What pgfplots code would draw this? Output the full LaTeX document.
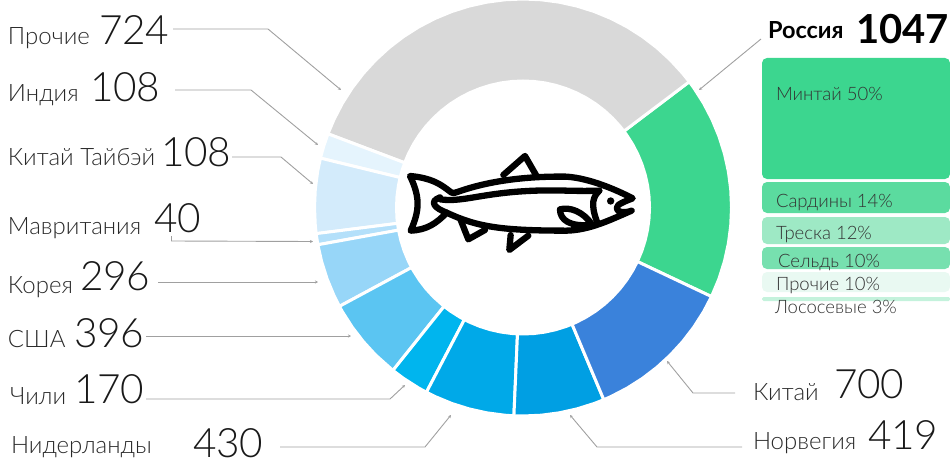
\documentclass[border=0pt]{standalone}
\usepackage{fontspec}
\setmainfont{Lato}
\newfontfamily\lt{Lato Light}
\usepackage{pgfplots}
\pgfplotsset{compat=1.18}
\usetikzlibrary{arrows.meta}
\definecolor{cRus}{HTML}{3CD68F}
\definecolor{cOth}{HTML}{D9D9D9}
\definecolor{cInd}{HTML}{E5F4FD}
\definecolor{cTai}{HTML}{D3EBFB}
\definecolor{cMau}{HTML}{B4E0FA}
\definecolor{cKor}{HTML}{97D6F8}
\definecolor{cUSA}{HTML}{5BC5F2}
\definecolor{cChi}{HTML}{00B5EE}
\definecolor{cNet}{HTML}{00A9E8}
\definecolor{cNor}{HTML}{009FE3}
\definecolor{cChn}{HTML}{3A82DB}
\definecolor{tA}{HTML}{5BDB9F}
\definecolor{tB}{HTML}{9EE9C5}
\definecolor{tC}{HTML}{77E0AF}
\definecolor{tD}{HTML}{E9F9F2}
\definecolor{tE}{HTML}{C4F2DC}
\definecolor{lead}{HTML}{A0A0A0}
\definecolor{txt}{HTML}{2A2A2A}
\newcommand{\lab}[1]{{\lt\fontsize{24}{24}\selectfont\color{txt}#1}}
\newcommand{\num}[1]{{\lt\fontsize{40.5}{40}\selectfont\color{black!90}#1}}
\newcommand{\tm}[1]{{\lt\fontsize{18.5}{20}\selectfont\color{black!80}#1}}
\begin{document}
\begin{tikzpicture}
\path[use as bounding box] (0,0) rectangle (950pt,460pt);
% ring
\begin{axis}[at={(0,0)},anchor=south west,width=950pt,height=460pt,scale only axis,hide axis,
  xmin=-523,xmax=427,ymin=-252.5,ymax=207.5,clip=false]
\pgfplotsset{wedge/.style={fill=#1,draw=white,line width=3pt,line join=miter,data cs=polar}}
\addplot[wedge=cRus] coordinates {(-25.3,208.5)(-20,208.5)(-15,208.5)(-10,208.5)(-5,208.5)(0,208.5)(5,208.5)(10,208.5)(15,208.5)(20,208.5)(25,208.5)(30,208.5)(35,208.5)(37.1,208.5)
 (37.1,126.5)(35,126.5)(30,126.5)(25,126.5)(20,126.5)(15,126.5)(10,126.5)(5,126.5)(0,126.5)(-5,126.5)(-10,126.5)(-15,126.5)(-20,126.5)(-25.3,126.5)} --cycle;
\addplot[wedge=cOth] coordinates {(37.1,208.5)(40,208.5)(45,208.5)(50,208.5)(55,208.5)(60,208.5)(65,208.5)(70,208.5)(75,208.5)(80,208.5)(85,208.5)(90,208.5)(95,208.5)(100,208.5)(105,208.5)(110,208.5)(115,208.5)(120,208.5)(125,208.5)(130,208.5)(135,208.5)(140,208.5)(145,208.5)(150,208.5)(155,208.5)(159.3,208.5)
 (159.3,126.5)(155,126.5)(150,126.5)(145,126.5)(140,126.5)(135,126.5)(130,126.5)(125,126.5)(120,126.5)(115,126.5)(110,126.5)(105,126.5)(100,126.5)(95,126.5)(90,126.5)(85,126.5)(80,126.5)(75,126.5)(70,126.5)(65,126.5)(60,126.5)(55,126.5)(50,126.5)(45,126.5)(40,126.5)(37.1,126.5)} --cycle;
\addplot[wedge=cInd] coordinates {(159.3,208.5)(163,208.5)(166.3,208.5)(166.3,126.5)(163,126.5)(159.3,126.5)} --cycle;
\addplot[wedge=cTai] coordinates {(166.3,208.5)(170,208.5)(175,208.5)(180,208.5)(185,208.5)(187.2,208.5)(187.2,126.5)(185,126.5)(180,126.5)(175,126.5)(170,126.5)(166.3,126.5)} --cycle;
\addplot[wedge=cMau] coordinates {(187.2,208.5)(190.3,208.5)(190.3,126.5)(187.2,126.5)} --cycle;
\addplot[wedge=cKor] coordinates {(190.3,208.5)(195,208.5)(200,208.5)(205,208.5)(208.3,208.5)(208.3,126.5)(205,126.5)(200,126.5)(195,126.5)(190.3,126.5)} --cycle;
\addplot[wedge=cUSA] coordinates {(208.3,208.5)(210,208.5)(215,208.5)(220,208.5)(225,208.5)(231.4,208.5)(231.4,126.5)(225,126.5)(220,126.5)(215,126.5)(210,126.5)(208.3,126.5)} --cycle;
\addplot[wedge=cChi] coordinates {(231.4,208.5)(235,208.5)(240,208.5)(242.4,208.5)(242.4,126.5)(240,126.5)(235,126.5)(231.4,126.5)} --cycle;
\addplot[wedge=cNet] coordinates {(242.4,208.5)(245,208.5)(250,208.5)(255,208.5)(260,208.5)(265,208.5)(267.5,208.5)(267.5,126.5)(265,126.5)(260,126.5)(255,126.5)(250,126.5)(245,126.5)(242.4,126.5)} --cycle;
\addplot[wedge=cNor] coordinates {(267.5,208.5)(270,208.5)(275,208.5)(280,208.5)(285,208.5)(290,208.5)(292.8,208.5)(292.8,126.5)(290,126.5)(285,126.5)(280,126.5)(275,126.5)(270,126.5)(267.5,126.5)} --cycle;
\addplot[wedge=cChn] coordinates {(292.8,208.5)(295,208.5)(300,208.5)(305,208.5)(310,208.5)(315,208.5)(320,208.5)(325,208.5)(330,208.5)(334.7,208.5)(334.7,126.5)(330,126.5)(325,126.5)(320,126.5)(315,126.5)(310,126.5)(305,126.5)(300,126.5)(295,126.5)(292.8,126.5)} --cycle;
\end{axis}
% blocks, leaders, labels in image pixels
\begin{axis}[at={(0,0)},anchor=south west,width=950pt,height=460pt,scale only axis,hide axis,
  xmin=0,xmax=950,ymin=0,ymax=460,y dir=reverse,clip=false]
\pgfplotsset{block/.style={fill=#1,draw=none,rounded corners=5pt},
  ld/.style={draw=lead,line width=0.9pt,-{Stealth[length=3pt,width=3pt]},line join=miter}}
\addplot[block=cRus] coordinates {(762,58)(950,58)(950,179)(762,179)} --cycle;
\addplot[block=tA] coordinates {(762,182)(950,182)(950,213)(762,213)} --cycle;
\addplot[block=tB] coordinates {(762,217)(950,217)(950,244)(762,244)} --cycle;
\addplot[block=tC] coordinates {(762,247)(950,247)(950,269)(762,269)} --cycle;
\addplot[block=tD] coordinates {(762,272)(950,272)(950,292)(762,292)} --cycle;
\addplot[fill=tE,draw=none,rounded corners=1.5pt] coordinates {(762,297)(950,297)(950,301)(762,301)} --cycle;
% leaders
\addplot[ld] coordinates {(173,29)(268,29)(341,90)};
\addplot[ld] coordinates {(175,90)(251,90)(318,145)};
\addplot[ld] coordinates {(232,157)(281,157)(313,184)};
\addplot[ld] coordinates {(171.5,236)(171.5,241)(313,241.5)};
\addplot[ld] coordinates {(158,282)(318,282)};
\addplot[ld] coordinates {(146,336)(351,336)};
\addplot[ld] coordinates {(146,399)(390,399)(405,385)};
\addplot[ld] coordinates {(280,447)(425,447)(451,415)};
\addplot[ld] coordinates {(735,393)(693,393)(667,361)};
\addplot[ld] coordinates {(742,447)(597,447)(570,415)};
\addplot[ld] coordinates {(761,39)(699,90)};
\tikzset{every node/.style={anchor=base west,inner sep=0pt,outer sep=0pt}}
\node at (axis cs:8,45) {\lab{Прочие}};
\node at (axis cs:99,45) {\num{724}};
\node at (axis cs:8,101) {\lab{Индия}};
\node at (axis cs:90,101) {\num{108}};
\node at (axis cs:8,165) {\lab{Китай Тайбэй}};
\node at (axis cs:161,166) {\num{108}};
\node at (axis cs:8,234) {\lab{Мавритания}};
\node at (axis cs:154,232) {\num{40}};
\node at (axis cs:8,293) {\lab{Корея}};
\node at (axis cs:80,290) {\num{296}};
\node at (axis cs:8,347) {\lab{США}};
\node at (axis cs:74,347) {\num{396}};
\node at (axis cs:10,404) {\lab{Чили}};
\node at (axis cs:74,403) {\num{170}};
\node at (axis cs:11,453) {\lab{Нидерланды}};
\node at (axis cs:193,457) {\num{430}};
\node at (axis cs:753,400) {\lab{Китай}};
\node at (axis cs:834,398) {\num{700}};
\node at (axis cs:753,449) {\lab{Норвегия}};
\node at (axis cs:868,449) {\num{419}};
\node at (axis cs:768,38.5) {{\bfseries\fontsize{23.5}{24}\selectfont Россия}};
\node at (axis cs:856,44) {{\bfseries\fontsize{40}{40}\selectfont 1047}};
\node at (axis cs:776,100) {\tm{Минтай 50\%}};
\node at (axis cs:776,207) {\tm{Сардины 14\%}};
\node at (axis cs:776,239) {\tm{Треска 12\%}};
\node at (axis cs:778,267) {\tm{Сельдь 10\%}};
\node at (axis cs:776,290) {\tm{Прочие 10\%}};
\node at (axis cs:775,313) {\tm{Лососевые 3\%}};
\end{axis}
% fish icon (decoration)
\begin{scope}[shift={(390pt,320pt)},x=0.3333pt,y=-0.3333pt,line width=6.3pt,line cap=round,line join=round]
\draw (185,158) .. controls (165,145) and (140,115) .. (60,108)
      .. controls (90,170) and (90,210) .. (62,272)
      .. controls (110,270) and (140,250) .. (170,218)
      .. controls (260,260) and (330,272) .. (530,272)
      .. controls (600,270) and (660,240) .. (725,212)
      .. controls (700,222) and (670,215) .. (685,195)
      .. controls (695,188) and (710,182) .. (728,175)
      .. controls (680,150) and (600,115) .. (530,110)
      .. controls (400,108) and (290,125) .. (205,155)
      .. controls (198,158) and (190,160) .. (185,158) -- cycle;
\draw (170,218) .. controls (135,205) and (115,185) .. (150,172);
\draw (150,178) .. controls (230,190) and (300,145) .. (530,152) .. controls (570,153) and (600,153) .. (628,152);
\draw (628,152) .. controls (610,170) and (600,190) .. (622,248);
\fill (662,183) circle[radius=3.7pt];
\draw (606,254) .. controls (580,215) and (540,200) .. (510,208) .. controls (510,240) and (540,262) .. (606,254);
\draw (340,105) -- (405,48) -- (438,105);
\draw (212,240) -- (235,298) -- (285,270);
\draw (362,285) -- (358,330) -- (415,287);
\end{scope}
\end{tikzpicture}
\end{document}
